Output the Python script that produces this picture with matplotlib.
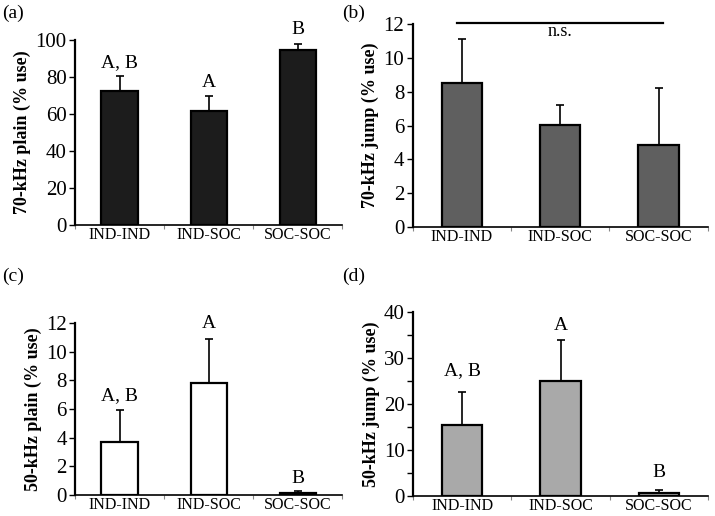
import numpy as np
import matplotlib.pyplot as plt
from matplotlib.ticker import MultipleLocator, FixedLocator

plt.rcParams['font.family'] = ['Liberation Serif', 'DejaVu Serif']

groups = ['IND-IND', 'IND-SOC', 'SOC-SOC']

plain70 = [72.5, 61.5, 94.5]
plain70_err = [8.0, 8.5, 3.5]
jump70 = [8.55, 6.05, 4.85]
jump70_err = [2.55, 1.2, 3.4]
plain50 = [3.7, 7.8, 0.15]
plain50_err = [2.2, 3.05, 0.1]
jump50 = [15.5, 25.0, 0.7]
jump50_err = [7.2, 9.0, 0.5]

letters70_plain = ['A, B', 'A', 'B']
letters50_plain = ['A, B', 'A', 'B']
letters50_jump = ['A, B', 'A', 'B']

fig = plt.figure(figsize=(7.15, 5.16), dpi=100)

panels = [
    # rect, values, errors, colour, ylabel, ylim, step, letters, letter y, label pos
    ([0.105, 0.564, 0.374, 0.358], plain70, plain70_err, '#1c1c1c',
     '70-kHz plain (% use)', 100, 20, letters70_plain, [88, 77, 106], (0.003, 0.975), None),
    ([0.577, 0.560, 0.413, 0.393], jump70, jump70_err, '#5f5f5f',
     '70-kHz jump (% use)', 12, 2, None, None, (0.478, 0.975), None),
    ([0.105, 0.041, 0.374, 0.333], plain50, plain50_err, '#ffffff',
     '50-kHz plain (% use)', 12, 2, letters50_plain, [6.9, 12.0, 1.15], (0.003, 0.465), None),
    ([0.578, 0.039, 0.412, 0.356], jump50, jump50_err, '#a9a9a9',
     '50-kHz jump (% use)', 40, 10, letters50_jump, [27.2, 37.0, 5.0], (0.478, 0.465), 5),
]
tags = ['(a)', '(b)', '(c)', '(d)']

for (rect, vals, errs, col, ylab, ymax, step, letters, ly, lpos, minor), tag in zip(panels, tags):
    ax = fig.add_axes(rect)
    x = np.arange(len(groups))
    ax.bar(x, vals, width=0.41, color=col, edgecolor='black', linewidth=1.6, zorder=2)
    ax.errorbar(x, vals, yerr=[np.zeros(len(errs)), errs], fmt='none',
                ecolor='black', elinewidth=1.2, capsize=3, capthick=1.2, zorder=1)
    ax.set_xlim(-0.5, 2.5)
    ax.set_ylim(0, ymax)
    ax.yaxis.set_major_locator(MultipleLocator(step))
    if minor:
        ax.yaxis.set_minor_locator(MultipleLocator(minor))
        ax.tick_params(axis='y', which='minor', length=4, width=1)
    ax.set_xticks(x)
    ax.set_xticklabels(groups, fontsize=11.5)
    ax.xaxis.set_minor_locator(FixedLocator([-0.5, 0.5, 1.5, 2.5]))
    ax.tick_params(axis='x', which='major', length=0, pad=1.5)
    ax.tick_params(axis='x', which='minor', length=3, width=0.8, color='#888888')
    ax.tick_params(axis='y', which='major', labelsize=15, length=4, width=1, pad=2)
    ax.spines['top'].set_visible(False)
    ax.spines['right'].set_visible(False)
    ax.spines['left'].set_linewidth(1.6)
    ax.spines['bottom'].set_linewidth(1.2)
    ax.set_ylabel(ylab, fontsize=13, fontweight='bold', labelpad=3)
    if letters:
        for xi, t, yy in zip(x, letters, ly):
            ax.text(xi, yy, t, ha='center', va='center', fontsize=14)
    fig.text(lpos[0], lpos[1], tag, fontsize=14, ha='left', va='center')

# n.s. line for panel (b)
axb = fig.axes[1]
axb.plot([-0.05, 2.04], [12.1, 12.1], color='black', lw=1.6, clip_on=False)
axb.text(1.0, 11.55, 'n.s.', ha='center', va='center', fontsize=13)

fig.savefig('out.png', dpi=100)
